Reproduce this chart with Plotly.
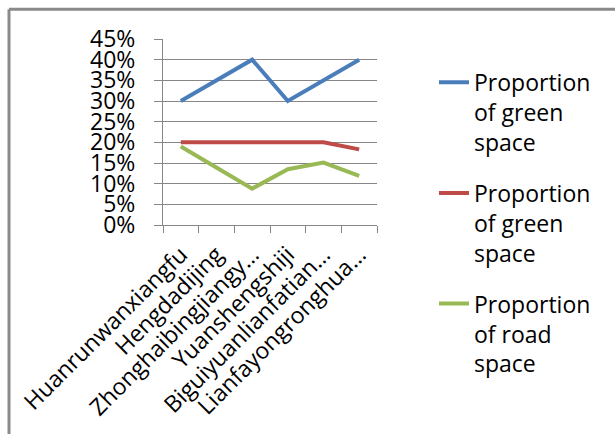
import plotly.graph_objects as go

categories = ["Huanrunwanxiangfu", "Hengdadijing", "Zhonghaibingjiangy…",
              "Yuanshengshiji", "Biguiyuanlianfatian…", "Lianfayongronghua…"]
series_names = ["Proportion<br>of green<br>space", "Proportion<br>of green<br>space",
                "Proportion<br>of road<br>space"]
green_space_a = [0.30, 0.35, 0.40, 0.30, 0.35, 0.40]
green_space_b = [0.20, 0.20, 0.20, 0.20, 0.20, 0.183]
road_space = [0.19, 0.14, 0.088, 0.135, 0.151, 0.119]
y_ticks = [0, 0.05, 0.10, 0.15, 0.20, 0.25, 0.30, 0.35, 0.40, 0.45]

colors = ["#4A7EBB", "#BE4B48", "#98B954"]
W, H = 615, 434
L, R, T, B = 163, 238, 39, 207
pw, ph = W - L - R, H - T - B
FONT = "Open Sans"
FS = 23

fig = go.Figure()
for i, (name, vals) in enumerate(zip(series_names, [green_space_a, green_space_b, road_space])):
    fig.add_trace(go.Scatter(x=categories, y=vals, mode="lines", name=name,
                             legendgroup=f"g{i}",
                             line=dict(color=colors[i], width=4)))

def px_x(p):
    return (p - L) / pw

def px_y(p):
    return (H - B - p) / ph

fig.update_layout(
    width=W, height=H,
    margin=dict(l=L, r=R, t=T, b=B),
    paper_bgcolor="white", plot_bgcolor="white",
    font=dict(family=FONT, size=FS, color="#000000"),
    legend=dict(x=px_x(434), y=px_y(61), xanchor="left", yanchor="top",
                traceorder="grouped", tracegroupgap=18, valign="top",
                maxheight=420,
                font=dict(family=FONT, size=FS, color="#000000"),
                bgcolor="rgba(0,0,0,0)"),
    xaxis=dict(type="category", tickangle=-45, showgrid=False,
               showline=True, linecolor="#868686", linewidth=1,
               ticks="outside", tickson="boundaries", ticklen=7, tickcolor="#868686",
               ticklabelstandoff=6,
               tickfont=dict(family=FONT, size=FS, color="#000000"),
               range=[-0.5, len(categories) - 0.5]),
    yaxis=dict(range=[0, 0.45], tickvals=y_ticks, tickformat=".0%",
               showgrid=True, gridcolor="#868686", gridwidth=1,
               showline=True, linecolor="#868686", linewidth=1,
               ticks="outside", ticklen=8, tickcolor="#868686",
               ticklabelstandoff=14, zeroline=False,
               tickfont=dict(family=FONT, size=FS, color="#000000")),
    shapes=[
        dict(type="line", xref="paper", yref="paper",
             x0=px_x(9), x1=px_x(W + 5), y0=px_y(9), y1=px_y(9),
             line=dict(color="#8a8a8a", width=3)),
        dict(type="line", xref="paper", yref="paper",
             x0=px_x(9), x1=px_x(9), y0=px_y(9), y1=px_y(H + 5),
             line=dict(color="#8a8a8a", width=3)),
    ],
)

fig.write_html("out.html")
